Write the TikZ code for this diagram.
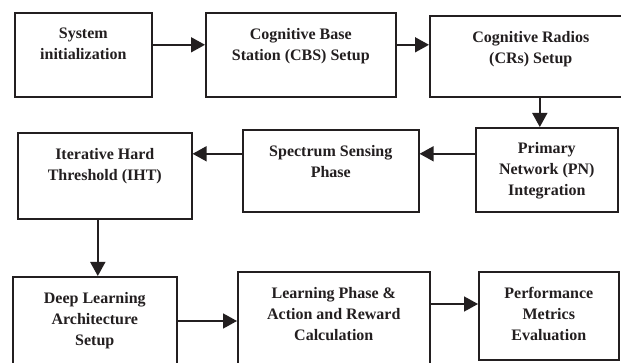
\documentclass[tikz,border=0pt]{standalone}
\usepackage{fontspec}
\setmainfont{Liberation Serif}
\usetikzlibrary{arrows.meta,calc}
\definecolor{ink}{HTML}{231F20}
\begin{document}
\begin{tikzpicture}[x=1pt,y=-1pt,
  box/.style={draw=ink, line width=1.6pt, rectangle, inner sep=0pt, anchor=north west},
  lbl/.style={anchor=north, inner sep=0pt, align=center, text=ink, font=\fontsize{16}{21}\selectfont\bfseries},
  arr/.style={draw=ink, line width=1.6pt, -{Triangle[length=14pt,width=15pt]}}]
\clip (0,0) rectangle (621,363);
\fill[white] (0,0) rectangle (621,363);
% boxes
\node[box, minimum width=137pt, minimum height=84pt] (A) at (14,12) {};
\node[box, minimum width=190pt, minimum height=84pt] (B) at (205,12) {};
\node[box, minimum width=202pt, minimum height=81pt] (C) at (429,15) {};
\node[box, minimum width=174pt, minimum height=86pt] (IHT) at (17,132) {};
\node[box, minimum width=176pt, minimum height=82pt] (SS) at (242,129) {};
\node[box, minimum width=142pt, minimum height=84pt] (PN) at (475,127) {};
\node[box, minimum width=164pt, minimum height=110pt] (DL) at (12,276) {};
\node[box, minimum width=192pt, minimum height=110pt] (LP) at (237,271) {};
\node[box, minimum width=140pt, minimum height=88pt] (PM) at (478,271) {};
% labels
\node[lbl] (tA) at ([yshift=-16pt]A.north) {System\\initialization};
\node[lbl] (tB) at ([yshift=-16pt]B.north) {Cognitive Base\\Station (CBS) Setup};
\node[lbl] (tC) at ([yshift=-16pt]C.north) {Cognitive Radios\\(CRs) Setup};
\node[lbl] (tIHT) at ([yshift=-16pt]IHT.north) {Iterative Hard\\Threshold (IHT)};
\node[lbl] (tSS) at ([yshift=-16pt]SS.north) {Spectrum Sensing\\Phase};
\node[lbl] (tPN) at ([yshift=-15pt]PN.north) {Primary\\Network (PN)\\Integration};
\node[lbl] (tDL) at ([yshift=-16pt]DL.north) {Deep Learning\\Architecture\\Setup};
\node[lbl] (tLP) at ([yshift=-16pt]LP.north) {Learning Phase \&\\Action and Reward\\Calculation};
\node[lbl] (tPM) at ([yshift=-16pt]PM.north) {Performance\\Metrics\\Evaluation};
% connectors
\coordinate (a1) at ([yshift=10pt]A.east);
\draw[arr] (a1) -- (a1 -| B.west);
\coordinate (b1) at ([yshift=10pt]B.east);
\draw[arr] (b1) -- (b1 -| C.west);
\coordinate (c1) at ([xshift=9pt]C.south);
\draw[arr] (c1) -- (c1 |- PN.north);
\coordinate (p1) at ([yshift=16pt]PN.west);
\draw[arr] (p1) -- (p1 -| SS.east);
\coordinate (s1) at ([yshift=17pt]SS.west);
\draw[arr] (s1) -- (s1 -| IHT.east);
\coordinate (i1) at ([xshift=-7pt]IHT.south);
\draw[arr] (i1) -- (i1 |- DL.north);
\coordinate (d1) at ([yshift=-45pt]DL.north east);
\draw[arr] (d1) -- (d1 -| LP.west);
\coordinate (l1) at ([yshift=-33pt]LP.north east);
\draw[arr] (l1) -- (l1 -| PM.west);
\end{tikzpicture}
\end{document}
